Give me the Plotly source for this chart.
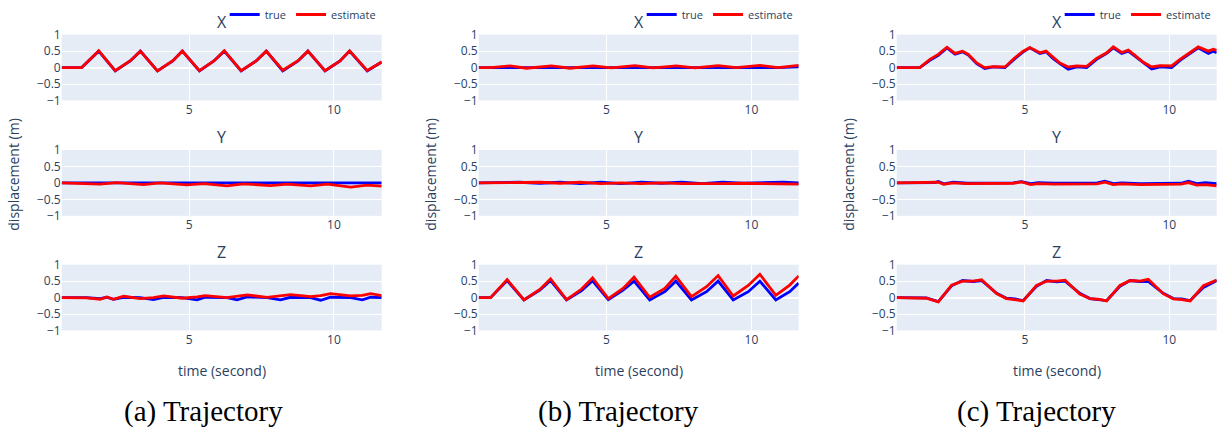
import plotly.graph_objects as go

# ---------------------------------------------------------------------------
# Trajectory data: time stamps (s) and displacement (m) for true / estimate
# ---------------------------------------------------------------------------

# (a) X
a_x_time = [0.59, 1.28, 1.87, 2.44, 2.96, 3.31, 3.90, 4.43, 4.76, 5.35, 5.85, 6.21,
            6.79, 7.31, 7.66, 8.23, 8.76, 9.10, 9.69, 10.21, 10.54, 11.15, 11.65]
a_x_true = [0.0, 0.0, 0.5, -0.1, 0.2, 0.5, -0.1, 0.2, 0.5, -0.1, 0.2, 0.5,
            -0.1, 0.2, 0.5, -0.1, 0.2, 0.5, -0.1, 0.2, 0.5, -0.1, 0.17]
a_x_est = [0.0, 0.0, 0.51, -0.09, 0.21, 0.5, -0.1, 0.21, 0.5, -0.09, 0.2, 0.51,
           -0.09, 0.2, 0.5, -0.08, 0.21, 0.5, -0.09, 0.2, 0.51, -0.09, 0.17]

# (a) Y
a_y_time = [0.59, 1.92, 2.49, 3.42, 3.99, 4.92, 5.50, 6.30, 6.88, 7.81, 8.38, 9.19,
            9.77, 10.58, 11.15, 11.65]
a_y_true = [0.0, 0.0, 0.0, 0.0, 0.0, 0.0, 0.0, 0.0, 0.0, 0.0, 0.0, 0.0,
            0.0, 0.0, 0.0, 0.0]
a_y_est = [0.0, -0.04, 0.01, -0.05, 0.0, -0.06, -0.02, -0.09, -0.03, -0.08, -0.04, -0.09,
           -0.04, -0.13, -0.07, -0.10]

# (a) Z
a_z_time = [0.59, 1.45, 1.92, 2.15, 2.38, 2.73, 3.30, 3.76, 4.11, 4.75, 5.27, 5.55,
            6.30, 6.65, 7.00, 7.69, 8.15, 8.50, 9.19, 9.54, 9.88, 10.58, 10.98, 11.27, 11.65]
a_z_true = [0.0, 0.0, -0.03, 0.01, -0.05, 0.01, 0.0, -0.06, 0.01, 0.0, -0.07, 0.01,
            0.0, -0.07, 0.02, 0.0, -0.07, 0.01, 0.0, -0.08, 0.01, 0.0, -0.07, 0.01, 0.0]
a_z_est = [0.0, -0.01, -0.05, 0.02, -0.05, 0.04, -0.03, 0.0, 0.05, -0.02, 0.02, 0.06,
           0.0, 0.04, 0.08, 0.01, 0.05, 0.09, 0.03, 0.06, 0.12, 0.05, 0.07, 0.12, 0.06]

# (b) X
b_x_time = [0.59, 1.0, 1.67, 2.24, 3.10, 3.74, 4.54, 5.17, 5.98, 6.61, 7.41, 8.05,
            8.85, 9.48, 10.29, 10.92, 11.63]
b_x_true = [0.0, 0.0, 0.01, -0.01, 0.01, -0.01, 0.01, 0.0, 0.01, -0.01, 0.01, 0.0,
            0.01, 0.0, 0.01, 0.0, 0.02]
b_x_est = [0.0, 0.0, 0.05, -0.02, 0.05, -0.02, 0.05, -0.01, 0.06, -0.01, 0.05, -0.01,
           0.06, 0.0, 0.07, 0.0, 0.07]

# (b) Y
b_y_time = [0.59, 1.3, 2.0, 2.7, 3.4, 4.1, 4.8, 5.5, 6.2, 6.9, 7.6, 8.3, 9.0, 9.7,
            10.4, 11.1, 11.63]
b_y_true = [0.0, 0.0, 0.02, -0.01, 0.02, -0.02, 0.02, -0.02, 0.02, -0.01, 0.02, -0.02,
            0.02, -0.01, 0.0, 0.02, 0.0]
b_y_est = [0.0, 0.0, 0.0, 0.02, -0.01, 0.02, -0.02, 0.0, -0.02, 0.0, -0.02, -0.03,
           -0.02, -0.01, -0.02, -0.05, -0.04]

# (b) Z
b_z_time = [0.59, 1.0, 1.57, 2.15, 2.70, 3.07, 3.62, 4.14, 4.52, 5.06, 5.57, 5.95,
            6.49, 7.01, 7.39, 7.93, 8.45, 8.85, 9.37, 9.89, 10.29, 10.84, 11.32, 11.63]
b_z_true = [0.0, 0.0, 0.52, -0.07, 0.23, 0.52, -0.07, 0.21, 0.51, -0.06, 0.23, 0.5,
            -0.07, 0.18, 0.5, -0.07, 0.18, 0.5, -0.07, 0.18, 0.5, -0.07, 0.18, 0.44]
b_z_est = [0.0, 0.0, 0.55, -0.07, 0.25, 0.57, -0.06, 0.26, 0.6, -0.03, 0.28, 0.62,
           0.01, 0.28, 0.65, 0.03, 0.33, 0.67, 0.05, 0.37, 0.71, 0.07, 0.38, 0.66]

# (c) X
c_x_time = [0.56, 1.36, 1.71, 2.00, 2.30, 2.58, 2.84, 3.04, 3.33, 3.61, 3.90, 4.31,
            4.65, 4.94, 5.17, 5.52, 5.73, 5.98, 6.21, 6.50, 6.79, 7.14, 7.48, 7.83,
            8.06, 8.35, 8.58, 8.81, 9.10, 9.39, 9.68, 10.08, 10.37, 10.72, 11.00,
            11.35, 11.52, 11.64]
c_x_true = [0.0, 0.0, 0.22, 0.37, 0.6, 0.41, 0.48, 0.38, 0.12, -0.03, 0.02, 0.0,
            0.27, 0.48, 0.6, 0.43, 0.48, 0.27, 0.12, -0.05, 0.02, 0.0, 0.25, 0.43,
            0.6, 0.43, 0.5, 0.35, 0.14, -0.04, 0.02, 0.0, 0.22, 0.43, 0.6,
            0.43, 0.5, 0.45]
c_x_est = [0.0, 0.0, 0.25, 0.4, 0.62, 0.43, 0.5, 0.4, 0.14, 0.0, 0.03, 0.02,
           0.3, 0.5, 0.61, 0.45, 0.5, 0.3, 0.14, 0.02, 0.05, 0.04, 0.28, 0.45,
           0.63, 0.46, 0.53, 0.37, 0.16, 0.02, 0.06, 0.05, 0.25, 0.46, 0.63,
           0.5, 0.56, 0.52]

# (c) Y
c_y_time = [0.56, 1.88, 2.00, 2.19, 2.52, 3.0, 4.6, 4.88, 5.20, 5.46, 6.0, 7.5,
            7.77, 8.06, 8.35, 9.0, 10.4, 10.66, 10.95, 11.25, 11.64]
c_y_true = [0.0, 0.01, 0.04, -0.03, 0.02, -0.01, 0.0, 0.04, -0.02, 0.01, -0.01, 0.0,
            0.05, -0.02, 0.0, -0.02, -0.01, 0.05, -0.02, 0.01, -0.02]
c_y_est = [0.0, 0.01, 0.02, -0.04, 0.0, -0.02, -0.01, 0.03, -0.05, -0.02, -0.04, -0.03,
           0.02, -0.05, -0.03, -0.05, -0.04, 0.01, -0.07, -0.05, -0.09]

# (c) Z
c_z_time = [0.56, 1.59, 2.0, 2.46, 2.84, 3.21, 3.5, 4.02, 4.36, 4.65, 4.94, 5.4,
            5.75, 6.1, 6.39, 6.9, 7.25, 7.54, 7.83, 8.29, 8.64, 8.98, 9.27, 9.79,
            10.14, 10.43, 10.72, 11.18, 11.64]
c_z_true = [0.0, -0.01, -0.12, 0.36, 0.52, 0.49, 0.52, 0.13, -0.02, -0.04, -0.09, 0.34,
            0.52, 0.48, 0.5, 0.13, -0.03, -0.05, -0.09, 0.34, 0.52, 0.49, 0.49, 0.13,
            -0.03, -0.04, -0.09, 0.31, 0.52]
c_z_est = [0.0, -0.02, -0.13, 0.38, 0.5, 0.5, 0.54, 0.12, -0.03, -0.06, -0.1, 0.37,
           0.5, 0.5, 0.53, 0.11, -0.03, -0.05, -0.1, 0.37, 0.52, 0.5, 0.56, 0.12,
           -0.04, -0.06, -0.1, 0.36, 0.53]

panel_captions = ["(a) Trajectory", "(b) Trajectory", "(c) Trajectory"]
row_titles = ["X", "Y", "Z"]
series_names = ["true", "estimate"]
y_ticks = [-1, -0.5, 0, 0.5, 1]

panels = [
    [(a_x_time, a_x_true, a_x_est), (a_y_time, a_y_true, a_y_est), (a_z_time, a_z_true, a_z_est)],
    [(b_x_time, b_x_true, b_x_est), (b_y_time, b_y_true, b_y_est), (b_z_time, b_z_true, b_z_est)],
    [(c_x_time, c_x_true, c_x_est), (c_y_time, c_y_true, c_y_est), (c_z_time, c_z_true, c_z_est)],
]

# ---------------------------------------------------------------------------
# Layout geometry (pixels in a 1225 x 431 canvas)
# ---------------------------------------------------------------------------
W, H = 1225, 431
panel_left = [61.7, 478.7, 896.7]
panel_width = 320.0
row_top = [34.7, 150.0, 264.7]
row_height = 65.8
caption_x = [203, 619, 1036]


def fx(px):
    return px / W


def fy(py):
    return 1 - py / H


fig = go.Figure()
annotations = []
layout_axes = {}
legend_keys = ["legend", "legend2", "legend3"]
colors = ["blue", "red"]

for p, rows in enumerate(panels):
    x0 = panel_left[p]
    x1 = x0 + panel_width
    for r, (t, true_vals, est_vals) in enumerate(rows):
        k = p * 3 + r + 1
        xa = "x" if k == 1 else f"x{k}"
        ya = "y" if k == 1 else f"y{k}"
        for s, vals in enumerate([true_vals, est_vals]):
            fig.add_trace(go.Scatter(
                x=t, y=vals, mode="lines", name=series_names[s],
                line=dict(color=colors[s], width=2.8),
                xaxis=xa, yaxis=ya,
                legend=legend_keys[p],
                showlegend=(r == 0),
            ))
        y_top = row_top[r]
        y_bot = y_top + row_height
        xkey = "xaxis" if k == 1 else f"xaxis{k}"
        ykey = "yaxis" if k == 1 else f"yaxis{k}"
        layout_axes[xkey] = dict(
            domain=[fx(x0), fx(x1)], anchor=ya, tick0=0, dtick=5,
            showgrid=True, gridcolor="white", zeroline=False,
            tickfont=dict(size=12), automargin=False,
        )
        layout_axes[ykey] = dict(
            domain=[fy(y_bot), fy(y_top)], anchor=xa, range=[-1, 1],
            tickvals=y_ticks, gridcolor="white", zerolinecolor="white",
            zerolinewidth=2, tickfont=dict(size=12), automargin=False,
        )
        annotations.append(dict(
            text=row_titles[r], x=fx((x0 + x1) / 2), y=fy(y_top),
            xref="paper", yref="paper", xanchor="center", yanchor="bottom",
            showarrow=False, font=dict(size=16),
        ))
    # shared axis titles and caption
    annotations.append(dict(
        text="displacement (m)", x=fx(x0 - 49), y=fy(175),
        xref="paper", yref="paper", xanchor="center", yanchor="middle",
        textangle=-90, showarrow=False, font=dict(size=14),
    ))
    annotations.append(dict(
        text="time (second)", x=fx((x0 + x1) / 2), y=fy(370.5),
        xref="paper", yref="paper", xanchor="center", yanchor="middle",
        showarrow=False, font=dict(size=14),
    ))
    annotations.append(dict(
        text=panel_captions[p], x=fx(caption_x[p]), y=fy(411),
        xref="paper", yref="paper", xanchor="center", yanchor="middle",
        showarrow=False,
        font=dict(family="Liberation Serif, Times New Roman, serif", size=29, color="black"),
    ))
    layout_axes[legend_keys[p]] = dict(
        orientation="h", x=fx(x1 - 1), xanchor="right",
        yref="container", y=1.0, yanchor="top",
        bgcolor="rgba(0,0,0,0)", font=dict(size=11),
    )

fig.update_layout(
    width=W, height=H,
    margin=dict(l=0, r=0, t=0, b=0, autoexpand=False),
    paper_bgcolor="white",
    plot_bgcolor="#E5ECF6",
    annotations=annotations,
    **layout_axes,
)

fig.write_html("out.html")
